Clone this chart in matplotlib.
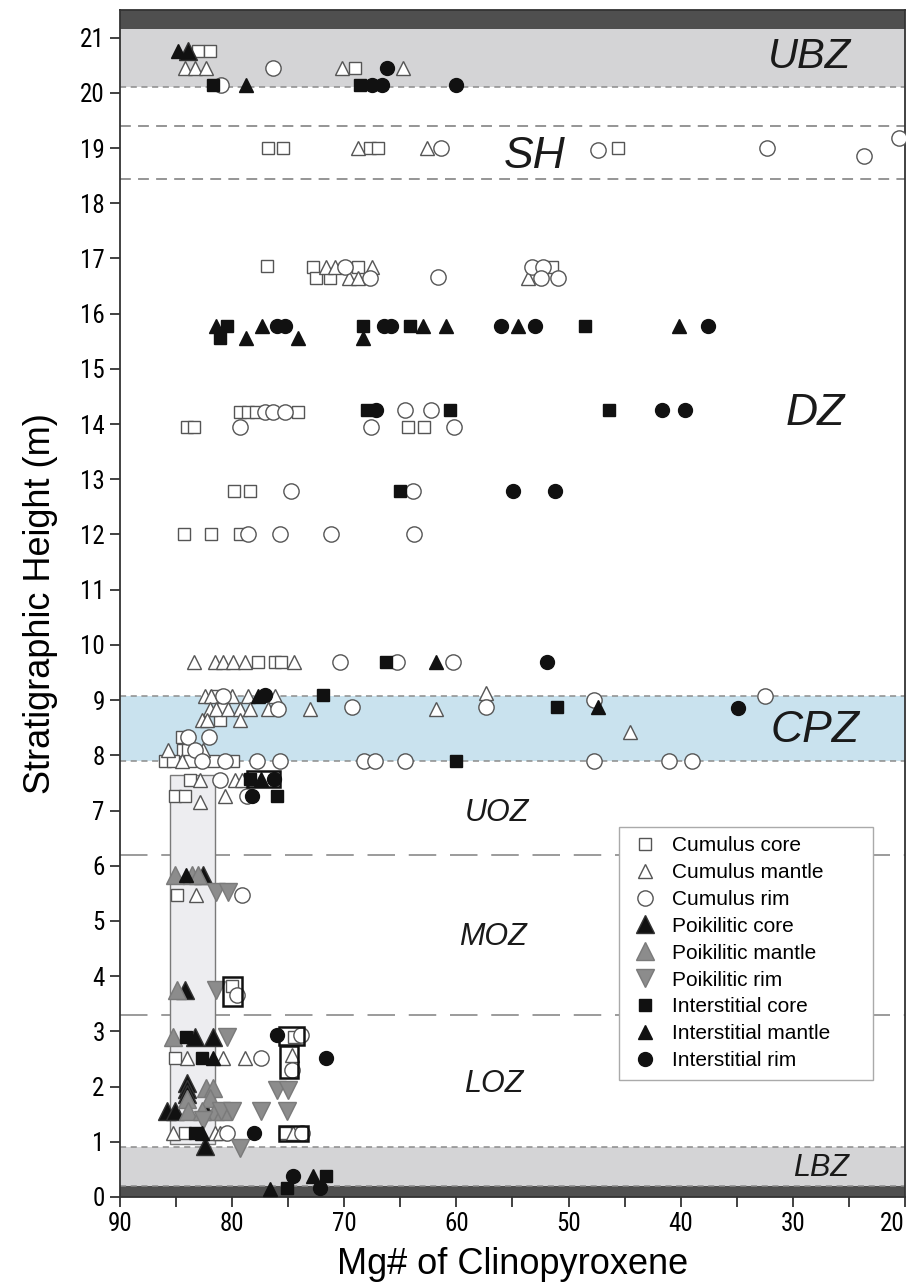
import numpy as np
import matplotlib
matplotlib.use("Agg")
import matplotlib.pyplot as plt
from matplotlib.patches import Rectangle
from matplotlib import font_manager

plt.rcParams['font.family'] = ['Liberation Sans', 'DejaVu Sans']

# look for a condensed sans face for the tick labels
narrow_path = None
for want in ['Liberation Sans Narrow', 'Roboto Condensed', 'Open Sans Condensed']:
    for f in font_manager.fontManager.ttflist:
        if f.name == want and f.style == 'normal' and f.weight in (400, 'normal', 'regular'):
            narrow_path = f.fname
            break
    if narrow_path:
        break
if narrow_path is None:
    for f in font_manager.fontManager.ttflist:
        if (f.name in ('DejaVu Sans', 'Noto Sans', 'Open Sans') and f.stretch == 'condensed'
                and f.style == 'normal' and f.weight in (400, 'normal', 'regular')):
            narrow_path = f.fname
            break
if narrow_path:
    tick_font = font_manager.FontProperties(fname=narrow_path, size=18)
else:
    tick_font = font_manager.FontProperties(family='Liberation Sans', size=16)

###############################################################################
# data: Mg# (x) and stratigraphic height in m (y)

# Cumulus core (open square)
cc_x = [83.0, 82.0, 69.0, 76.8, 75.5, 67.7, 67.0, 45.6, 76.9, 72.8, 68.75, 51.5, 72.5, 71.3,
        79.3, 78.6, 77.9, 74.1, 84.0, 83.4, 64.3, 62.9, 79.8, 78.4, 84.3, 81.9, 79.3,
        77.7, 76.2, 75.6, 81.4, 80.8, 81.1, 84.5, 84.4, 83.9, 86.0, 85.25, 83.8, 81.7, 79.9,
        83.75, 85.1, 84.2, 84.9, 80.0, 74.5, 85.1, 84.2, 75.3]
cc_y = [20.75, 20.75, 20.45, 19.0, 19.0, 19.0, 19.0, 19.0, 16.86, 16.85, 16.85, 16.85, 16.65, 16.65,
        14.22, 14.22, 14.22, 14.22, 13.95, 13.95, 13.95, 13.95, 12.78, 12.78, 12.0, 12.0, 12.0,
        9.69, 9.69, 9.69, 9.08, 8.84, 8.64, 8.34, 8.1, 8.1, 7.89, 7.89, 7.89, 7.89, 7.89,
        7.55, 7.27, 7.27, 5.47, 3.82, 2.9, 2.52, 1.15, 1.15]

# Cumulus mantle (open triangle)
cm_x = [84.2, 83.3, 82.3, 70.2, 64.8, 68.8, 62.6, 71.6, 70.8, 67.5, 69.6, 68.75, 53.6,
        83.4, 81.5, 80.8, 79.9, 78.85, 74.5,
        82.4, 81.9, 80.0, 78.55, 76.2, 57.4,
        82.0, 81.4, 80.35, 79.3, 78.4, 76.8, 73.1, 61.8,
        82.7, 82.2, 79.3, 44.5, 85.7, 82.6, 84.5,
        82.9, 79.75, 79.15, 82.9, 80.6, 83.25,
        84.0, 80.8, 78.85, 74.7, 85.25, 81.5, 81.1, 74.55]
cm_y = [20.45, 20.45, 20.45, 20.45, 20.45, 19.0, 19.0, 16.85, 16.85, 16.85, 16.65, 16.65, 16.65,
        9.69, 9.69, 9.69, 9.69, 9.69, 9.69,
        9.08, 9.08, 9.08, 9.08, 9.08, 9.12,
        8.84, 8.84, 8.84, 8.84, 8.84, 8.84, 8.84, 8.84,
        8.64, 8.64, 8.64, 8.43, 8.1, 8.1, 7.89,
        7.55, 7.55, 7.55, 7.15, 7.27, 5.47,
        2.52, 2.52, 2.52, 2.58, 1.15, 1.15, 1.15, 1.15]

# Cumulus rim (open circle)
cr_x = [81.0, 76.4, 61.4, 47.4, 32.3, 23.7, 20.5, 69.9, 53.3, 52.3, 67.7, 61.6, 52.5, 50.9,
        77.1, 76.4, 75.3, 64.6, 62.3, 79.3, 67.6, 60.2, 74.75, 63.9,
        78.6, 75.75, 71.2, 63.8, 70.4, 65.3, 60.3, 80.8, 47.7, 32.5,
        75.9, 69.3, 57.4, 83.9, 82.1, 83.3,
        82.7, 80.6, 77.8, 75.7, 68.2, 67.3, 64.6, 47.7, 41.0, 39.0,
        81.1, 78.7, 79.15, 79.6, 73.9, 77.4, 74.7, 80.5, 73.8]
cr_y = [20.15, 20.45, 19.0, 18.97, 19.0, 18.86, 19.18, 16.85, 16.85, 16.85, 16.65, 16.67, 16.65, 16.65,
        14.22, 14.22, 14.22, 14.25, 14.25, 13.95, 13.95, 13.95, 12.78, 12.78,
        12.0, 12.0, 12.0, 12.0, 9.69, 9.69, 9.69, 9.08, 9.0, 9.07,
        8.84, 8.87, 8.87, 8.34, 8.34, 8.1,
        7.89, 7.89, 7.89, 7.89, 7.89, 7.89, 7.89, 7.89, 7.89, 7.89,
        7.55, 7.27, 5.47, 3.65, 2.93, 2.52, 2.3, 1.15, 1.15]

# Poikilitic core (black triangle)
pc_x = [83.9, 82.6, 84.2, 83.3, 81.7, 84.05, 84.05, 84.0, 85.8, 85.1, 82.4, 82.4]
pc_y = [20.75, 5.83, 3.74, 2.9, 2.9, 2.06, 1.95, 1.86, 1.55, 1.55, 1.58, 0.93]

# Poikilitic mantle (grey triangle)
pm_x = [85.1, 83.6, 83.0, 84.9, 85.25, 84.0, 82.3, 81.7, 82.0, 83.9, 81.5, 80.8, 82.7]
pm_y = [5.83, 5.83, 5.83, 3.74, 2.9, 1.78, 1.98, 1.98, 1.8, 1.55, 1.55, 1.55, 1.55]

# Poikilitic rim (grey inverted triangle)
pr_x = [81.4, 80.35, 81.4, 80.5, 76.0, 75.0, 82.6, 81.0, 80.0, 77.4, 75.1, 79.3]
pr_y = [5.53, 5.53, 3.75, 2.9, 1.94, 1.94, 1.40, 1.55, 1.55, 1.55, 1.55, 0.89]

# Interstitial core (black square)
ic_x = [81.7, 68.6, 80.5, 81.1, 68.3, 64.1, 48.5, 68.0, 60.6, 46.4, 65.0, 66.3, 71.9,
        51.0, 60.05, 78.4, 76.0, 84.1, 82.7, 83.3, 71.6, 75.1]
ic_y = [20.15, 20.15, 15.77, 15.55, 15.77, 15.77, 15.77, 14.25, 14.25, 14.25, 12.78, 9.69, 9.1,
        8.87, 7.89, 7.57, 7.27, 2.9, 2.52, 1.15, 0.38, 0.17]

# Interstitial mantle (small black triangle)
im_x = [84.8, 78.8, 81.4, 78.8, 77.3, 74.1, 68.3, 63.0, 60.9, 54.5, 40.15,
        61.8, 77.7, 47.4, 77.4, 84.1, 81.7, 82.7, 72.8, 76.6]
im_y = [20.75, 20.15, 15.77, 15.55, 15.77, 15.55, 15.55, 15.77, 15.77, 15.77, 15.77,
        9.69, 9.08, 8.87, 7.57, 5.83, 2.52, 1.15, 0.38, 0.15]

# Interstitial rim (black circle)
ir_x = [66.2, 67.5, 66.6, 60.0, 76.0, 75.3, 66.5, 65.8, 56.0, 53.0, 37.6,
        67.2, 41.7, 39.6, 54.95, 51.25, 51.9, 77.1, 34.9, 76.3, 78.25,
        76.0, 71.6, 78.05, 74.55, 72.2]
ir_y = [20.45, 20.15, 20.15, 20.15, 15.77, 15.77, 15.77, 15.77, 15.77, 15.77, 15.77,
        14.25, 14.25, 14.25, 12.78, 12.78, 9.69, 9.1, 8.86, 7.57, 7.27,
        2.93, 2.52, 1.15, 0.38, 0.17]

# zone boundaries (m)
ubz_bot, ubz_top, y_top = 20.1, 21.15, 21.5
sh_top, sh_bot = 19.4, 18.43
cpz_bot, cpz_top = 7.9, 9.07
moz_top, loz_top = 6.2, 3.3
lbz_bot, lbz_top = 0.2, 0.9

###############################################################################
fig = plt.figure(figsize=(9.09, 12.84), dpi=100)
ax = fig.add_axes([0.132, 0.0678, 0.8636, 0.9244])

dark = '#4f4f4f'
light = '#d4d4d6'
blue = '#c9e2ee'
ax.axhspan(ubz_top, y_top, color=dark, lw=0, zorder=0)
ax.axhspan(ubz_bot, ubz_top, color=light, lw=0, zorder=0)
ax.axhspan(cpz_bot, cpz_top, color=blue, lw=0, zorder=0)
ax.axhspan(lbz_bot, lbz_top, color=light, lw=0, zorder=0)
ax.axhspan(0, lbz_bot, color=dark, lw=0, zorder=0)

# dashed boundaries
for yy in [ubz_bot, cpz_top, cpz_bot, lbz_top, lbz_bot]:
    ax.axhline(yy, color='#8c8c8c', lw=1.1, ls=(0, (4, 3)), zorder=1)
for yy in [sh_top, sh_bot]:
    ax.axhline(yy, color='#8c8c8c', lw=1.3, ls=(0, (6, 4)), zorder=1)
for yy in [moz_top, loz_top]:
    ax.axhline(yy, color='#808080', lw=1.1, ls=(0, (18, 9)), zorder=1)

# grey column behind the low points
ax.add_patch(Rectangle((85.5, 0.95), -4.0, 6.7, facecolor='#ededf0',
                       edgecolor='#7a7a7a', lw=1.0, zorder=1))

# black frames round some groups
for (x0, y0, w, h) in [(78.7, 7.42, -3.0, 0.3), (80.8, 3.45, -1.7, 0.53),
                       (75.8, 2.75, -2.2, 0.33), (75.7, 2.15, -1.6, 0.58),
                       (75.8, 1.02, -2.6, 0.26)]:
    ax.add_patch(Rectangle((x0, y0), w, h, facecolor='none', edgecolor='#111111',
                           lw=1.8, zorder=4))

open_kw = dict(ls='none', mfc='white', mec='#555555', mew=1.0, zorder=3)
ax.plot(cc_x, cc_y, marker='s', ms=9, label='Cumulus core', **open_kw)
ax.plot(cm_x, cm_y, marker='^', ms=10, label='Cumulus mantle', **open_kw)
ax.plot(cr_x, cr_y, marker='o', ms=11, label='Cumulus rim', **open_kw)
ax.plot(pc_x, pc_y, ls='none', marker='^', ms=13, mfc='#111111', mec='#333333',
        label='Poikilitic core', zorder=3)
ax.plot(pm_x, pm_y, ls='none', marker='^', ms=13, mfc='#8c8c8c', mec='#7a7a7a',
        label='Poikilitic mantle', zorder=3)
ax.plot(pr_x, pr_y, ls='none', marker='v', ms=13, mfc='#8c8c8c', mec='#7a7a7a',
        label='Poikilitic rim', zorder=3)
ax.plot(ic_x, ic_y, ls='none', marker='s', ms=9, mfc='#111111', mec='#111111',
        label='Interstitial core', zorder=3)
ax.plot(im_x, im_y, ls='none', marker='^', ms=10, mfc='#111111', mec='#111111',
        label='Interstitial mantle', zorder=3)
ax.plot(ir_x, ir_y, ls='none', marker='o', ms=10, mfc='#111111', mec='#111111',
        label='Interstitial rim', zorder=3)

# zone labels
big = dict(style='italic', ha='center', va='center', color='#1a1a1a', zorder=5)
ax.text(28.5, 20.65, 'UBZ', fontsize=30, **big)
ax.text(53.0, 18.85, 'SH', fontsize=32, **big)
ax.text(28.0, 14.2, 'DZ', fontsize=32, **big)
ax.text(28.0, 8.45, 'CPZ', fontsize=32, **big)
ax.text(56.4, 6.95, 'UOZ', fontsize=22, **big)
ax.text(56.7, 4.7, 'MOZ', fontsize=22, **big)
ax.text(56.7, 2.05, 'LOZ', fontsize=22, **big)
ax.text(27.5, 0.52, 'LBZ', fontsize=22, **big)

leg = ax.legend(loc='upper left', bbox_to_anchor=(0.636, 0.101, 0.323, 0.211),
                mode='expand', fontsize=15,
                frameon=True, fancybox=False, framealpha=1, edgecolor='#aaaaaa',
                handletextpad=0.5, labelspacing=0.38, borderpad=0.45,
                handlelength=1.6, borderaxespad=0)
leg.set_zorder(6)
leg.get_frame().set_linewidth(1.0)

ax.set_xlim(90, 20)
ax.set_ylim(0, y_top)
ax.set_xticks(np.arange(90, 19, -10))
ax.set_xticks(np.arange(85, 20, -10), minor=True)
ax.set_yticks(np.arange(0, 22, 1))
ax.tick_params(axis='both', which='both', direction='out', length=7, width=1.3,
               color='#333333', pad=4)
for lab in ax.get_xticklabels() + ax.get_yticklabels():
    lab.set_fontproperties(tick_font)
ax.get_xticklabels()[-1].set_horizontalalignment('right')
for s in ax.spines.values():
    s.set_linewidth(1.3)
    s.set_color('#333333')

ax.set_xlabel('Mg# of Clinopyroxene', fontsize=26, labelpad=8)
ax.set_ylabel('Stratigraphic Height (m)', fontsize=26, labelpad=16)

plt.savefig('out.png', dpi=100)
